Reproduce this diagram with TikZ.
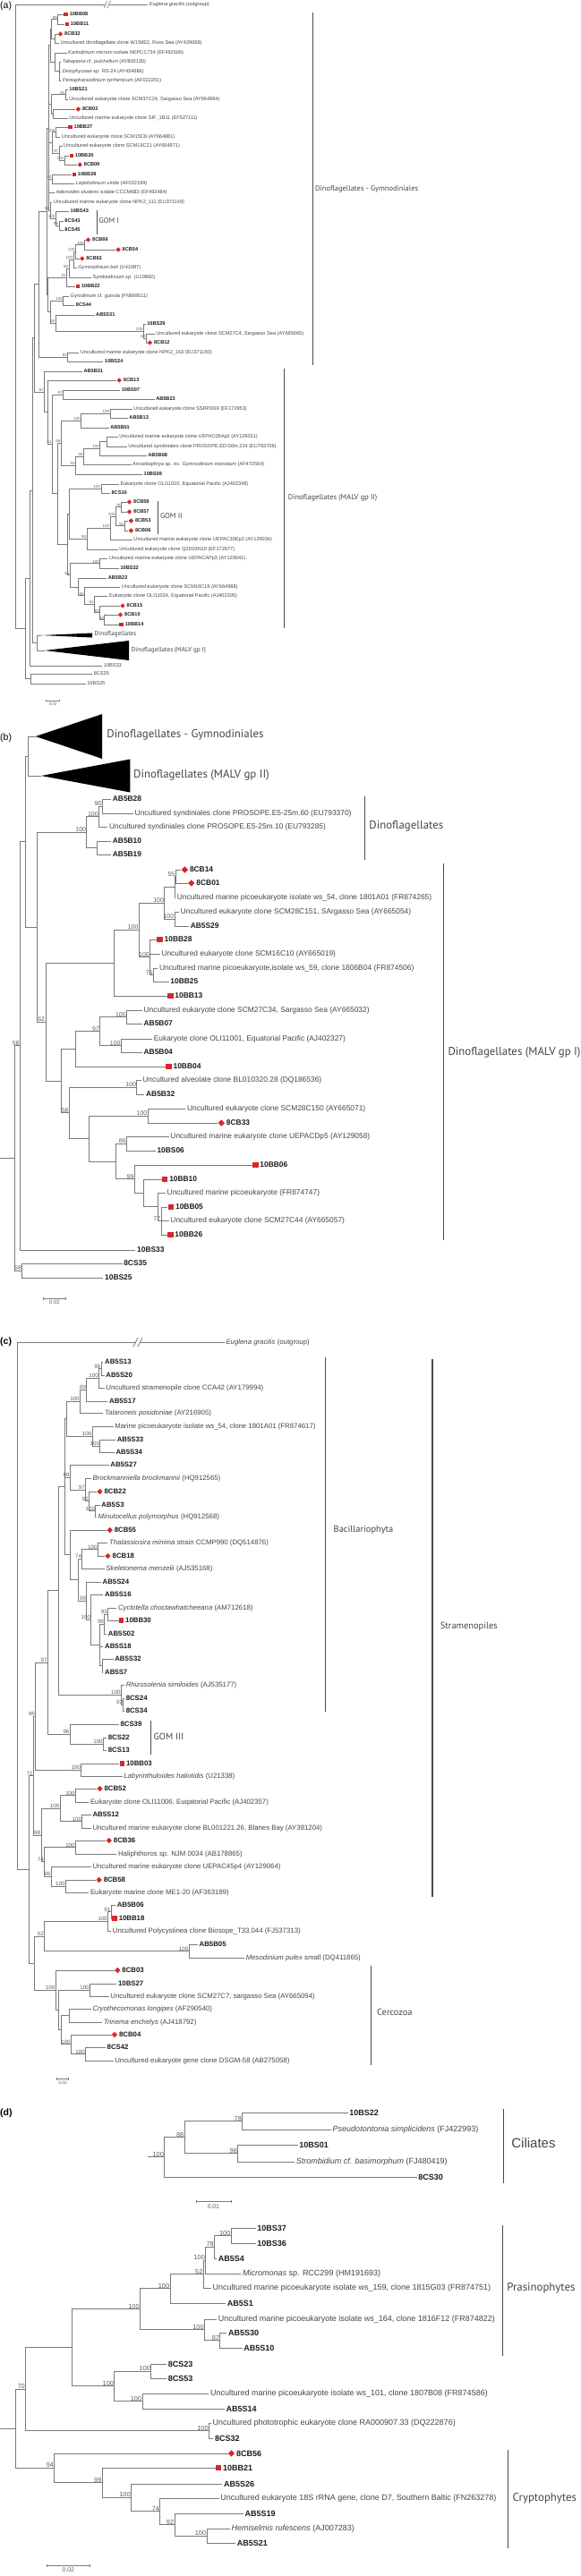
\documentclass[tikz,border=0pt]{standalone}
\usepackage{fontspec}
\setmainfont{Liberation Sans}
\newfontfamily\cladefont{PT Sans}
\usepackage{xcolor}
\definecolor{cLine}{HTML}{7A7A7A}
\definecolor{cText}{HTML}{454545}
\definecolor{cBold}{HTML}{1C1C1C}
\definecolor{cBoot}{HTML}{5E5E5E}
\definecolor{cBar}{HTML}{4A4A4A}
\definecolor{cRed}{HTML}{D9262C}
\usepackage{tikz}
\usetikzlibrary{shapes.geometric,arrows.meta}
\tikzset{
  branch/.style={draw=cLine,line width=0.8pt},
  leaf/.style={anchor=west,inner xsep=1.5pt,inner ysep=0.3pt,text=cText},
  lf/.style={leaf,font=\fontsize{8.4}{9}\selectfont},
  bs/.style={anchor=south east,inner xsep=0.6pt,inner ysep=0.2pt,text=cBoot,
    font=\fontsize{7}{8}\selectfont},
  msq/.style={anchor=west,fill=cRed,inner sep=0pt,minimum size=6.5pt},
  mdm/.style={diamond,anchor=west,fill=cRed,inner sep=0pt,minimum size=7.5pt},
  cladebar/.style={draw=cBar,line width=1.2pt},
  clade/.style={anchor=west,inner sep=0pt,text=cText,
    font=\cladefont\fontsize{12.8}{14}\selectfont},
  wedge/.style={fill=black},
  panel/.style={anchor=west,inner sep=0pt,font=\fontsize{10.5}{12}\selectfont},
  sbar/.style={draw=cLine,line width=0.6pt,{Bar[width=3pt]}-{Bar[width=3pt]}},
  sbl/.style={anchor=north,inner sep=0.4pt,text=cBoot,font=\fontsize{6}{7}\selectfont},
}
\newcommand{\cln}[1]{\textbf{\color{cBold}#1}}
\newcommand{\lv}[4]{\node[lf] (#1) at (#2,#3) {#4};}
\newcommand{\lvsq}[4]{\node[msq] (#1) at (#2,#3) {};
  \node[lf] (#1t) at (#1.east) {\cln{#4}};}
\newcommand{\lvdm}[4]{\node[mdm] (#1) at (#2,#3) {};
  \node[lf] (#1t) at (#1.east) {\cln{#4}};}
\newcommand{\boot}[2]{\node[bs] (#1b) at (#1) {#2};}

\begin{document}
\begin{tikzpicture}[x=1.2417pt,y=-1pt]
\useasboundingbox (0,0) rectangle (522.67,2879);

% ---------------- (a) ----------------
\begin{scope}[lf/.append style={font=\fontsize{5.6}{6}\selectfont},
  bs/.append style={font=\fontsize{4.5}{5}\selectfont},
  branch/.append style={line width=0.6pt},
  msq/.append style={minimum size=4.5pt},
  mdm/.append style={minimum size=5.5pt},
  cladebar/.append style={line width=0.8pt},
  clade/.append style={font=\cladefont\fontsize{8.4}{10}\selectfont},
  sbl/.append style={font=\fontsize{4.3}{5}\selectfont}]
  \node[panel] (pa) at (0,7) {(a)};
  \lv{aout}{133}{5}{\textit{Euglena gracilis} (outgroup)}
  \lvsq{a1}{57.3}{16}{10BB08}
  \lvsq{a2}{58.3}{27}{10BB11}
  \lvdm{a3}{52}{38}{8CB32}
  \lv{a4}{53}{48}{Uncultured dinoflagellate clone W159E2, Ross Sea (AY429068)}
  \lv{a5}{60}{59}{\textit{Karlodinium micrum} isolate NEPCC734 (EF492506)}
  \lv{a6}{55}{69}{\textit{Takayama} cf. \textit{pulchellum} (AY800130)}
  \lv{a7}{55}{80}{\textit{Dinophyceae} sp. RS-24 (AY434686)}
  \lv{a8}{55}{90}{\textit{Pentapharsodinium tyrrhenicum} (AF022201)}
  \lv{a9}{61}{100}{\cln{10BS21}}
  \lv{a10}{61}{111}{Uncultured eukaryote clone SCM37C24, Sargasso Sea (AY664894)}
  \lvdm{a11}{68}{122}{8CB02}
  \lv{a12}{61}{132}{Uncultured marine eukaryote clone SIF\_1B11 (EF527111)}
  \lvsq{a13}{61.3}{142}{10BB27}
  \lv{a14}{54}{153}{Uncultured eukaryote clone SCM15C8 (AY664881)}
  \lv{a15}{56}{163}{Uncultured eukaryote clone SCM19C21 (AY664971)}
  \lvsq{a16}{62.3}{174}{10BB20}
  \lvdm{a17}{69.5}{184}{8CB09}
  \lvsq{a18}{64.7}{195}{10BB29}
  \lv{a19}{67}{205}{\textit{Lepidodinium viride} (AF022199)}
  \lv{a20}{49}{215}{\textit{Adenoides eludens} isolate CCCM683 (EF492484)}
  \lv{a21}{47}{226}{Uncultured marine eukaryote clone NPK2\_111 (EU371149)}
  \lv{a22}{62}{236}{\cln{10BS43}}
  \lv{a23}{57}{247}{\cln{8CS43}}
  \lv{a24}{57}{257}{\cln{8CS45}}
  \lvdm{a25}{77}{268}{8CB66}
  \lvdm{a26}{104}{279}{8CB54}
  \lvdm{a27}{71.5}{289}{8CB63}
  \lv{a28}{69}{299}{\textit{Gymnodinium beii} (U41087)}
  \lv{a29}{82}{310}{Symbiodinium sp. (U10892)}
  \lvsq{a30}{68}{320}{10BB22}
  \lv{a31}{62}{331}{Gyrodinium cf. gutrula (FN669511)}
  \lv{a32}{67}{341}{\cln{8CS44}}
  \lv{a33}{85}{352}{\cln{AB5S31}}
  \lv{a34}{131}{362}{\cln{10BS29}}
  \lv{a35}{139}{373}{Uncultured eukaryote clone SCM27C4, Sargasso Sea (AY665065)}
  \lvdm{a36}{132.5}{383}{8CB12}
  \lv{a37}{71}{394}{Uncultured marine eukaryote clone NPK2\_163 (EU371150)}
  \lv{a38}{93}{404}{\cln{10BS24}}
  \lv{a39}{74}{415}{\cln{AB5B31}}
  \lvdm{a40}{105}{425}{8CB13}
  \lv{a41}{108}{436}{\cln{10BS07}}
  \lv{a42}{139}{446}{\cln{AB5B23}}
  \lv{a43}{119}{457}{Uncultured eukaryote clone SSRPD69 (EF172953)}
  \lv{a44}{115}{467}{\cln{AB5B13}}
  \lv{a45}{98}{478}{\cln{AB5B01}}
  \lv{a46}{106}{488}{Uncultured marine eukaryote clone UEPAC05Ap2 (AY129031)}
  \lv{a47}{114}{499}{Uncultured syndiniales clone PROSOPE.ED-50m.224 (EU793706)}
  \lv{a48}{132}{509}{\cln{AB5B08}}
  \lv{a49}{118}{519}{\textit{Amoebophrya} sp. ex. \textit{Gymnodinium instriatum} (AF472554)}
  \lv{a50}{128}{530}{\cln{10BS08}}
  \lv{a51}{107}{541}{Eukaryote clone OLI11010, Equatorial Pacific (AJ402348)}
  \lv{a52}{99}{551}{\cln{8CS10}}
  \lvdm{a53}{114}{561}{8CB59}
  \lvdm{a54}{114}{572}{8CB57}
  \lvdm{a55}{115.5}{582}{8CB53}
  \lvdm{a56}{115.5}{593}{8CB06}
  \lv{a57}{119}{603}{Uncultured marine eukaryote clone UEPAC30Ep2 (AY129034)}
  \lv{a58}{106}{614}{Uncultured eukaryote clone Q2D03N10 (EF172977)}
  \lv{a59}{97}{624}{Uncultured marine eukaryote clone UEPACAPp3 (AY129041)}
  \lv{a60}{107}{635}{\cln{10BS32}}
  \lv{a61}{96}{646}{\cln{AB5B22}}
  \lv{a62}{108}{656}{Uncultured eukaryote clone SCM16C19 (AY664988)}
  \lv{a63}{97}{666}{Eukaryote clone OLI11024, Equatorial Pacific (AJ402305)}
  \lvdm{a64}{108}{677}{8CB15}
  \lvdm{a65}{106}{687}{8CB10}
  \lvsq{a66}{107.3}{698}{10BB14}
  \lv{a67}{92}{744}{10BS33}
  \lv{a68}{83}{753}{8CS35}
  \lv{a69}{77}{764}{10BS25}
  % inner nodes
  \coordinate (an1) at (52,21.5);   \coordinate (an2) at (49,43);
  \coordinate (an3) at (53,79.5);   \coordinate (an4) at (49,69.2);
  \coordinate (an5) at (59,105.5);  \coordinate (an6) at (48,127);
  \coordinate (an7) at (50,147.5);  \coordinate (an8) at (58,179);
  \coordinate (an9) at (53,171);    \coordinate (an10) at (47,200);
  \coordinate (an11) at (53,252);   \coordinate (an12) at (50,244);
  \coordinate (an13) at (45,235);   \coordinate (an14) at (76,273.5);
  \coordinate (an15) at (68,281.2); \coordinate (an16) at (66,290.1);
  \coordinate (an17) at (62,300);   \coordinate (an18) at (60,310);
  \coordinate (an19) at (57,336);   \coordinate (an20) at (131.5,378);
  \coordinate (an21) at (129,370);  \coordinate (an22) at (50,361);
  \coordinate (an23) at (61,399);   \coordinate (an24) at (46,32.2);
  \coordinate (an25) at (45,50.7);  \coordinate (an26) at (46,116.2);
  \coordinate (an27) at (47,159.2); \coordinate (an28) at (44,142.9);
  \coordinate (an29) at (45,348.5); \coordinate (an30) at (43,329.2);
  \coordinate (an31) at (42,236);   \coordinate (an32) at (35,317.5);
  \coordinate (an33) at (99,462);   \coordinate (an34) at (73,470);
  \coordinate (an35) at (96,493.5); \coordinate (an36) at (90,501.2);
  \coordinate (an37) at (75,510.1); \coordinate (an38) at (68,520);
  \coordinate (an39) at (57,441);   \coordinate (an40) at (91,546);
  \coordinate (an41) at (109,566.5);\coordinate (an42) at (112,587.5);
  \coordinate (an43) at (104,577);  \coordinate (an44) at (99,590);
  \coordinate (an45) at (78,602);   \coordinate (an46) at (62,574);
  \coordinate (an47) at (90,629.5); \coordinate (an48) at (94,692.5);
  \coordinate (an49) at (90,684.7); \coordinate (an50) at (85,675.4);
  \coordinate (an51) at (76,665.7); \coordinate (an52) at (70,655.9);
  \coordinate (an53) at (63,642.7); \coordinate (an54) at (61,608.4);
  \coordinate (an55) at (55,495);   \coordinate (an56) at (52,551.7);
  \coordinate (an57) at (47,496.4); \coordinate (an58) at (43,460.7);
  \coordinate (an59) at (40,437.9); \coordinate (an60) at (31,377.7);
  \coordinate (aw1) at (37,710);    \coordinate (aw2) at (40,727);
  \coordinate (an61) at (33,718.5); \coordinate (an62) at (29,548);
  \coordinate (an63) at (27,646);   \coordinate (an64) at (28,758.5);
  \coordinate (an65) at (23,702.2); \coordinate (aroot) at (14,353.6);
  % collapsed clades
  \fill[wedge] (aw1) -- ++(46,-2.5) -- ++(0,5) -- cycle;
  \fill[wedge] (aw2) -- ++(76,-11) -- ++(0,22) -- cycle;
  \node[clade,font=\cladefont\fontsize{7.2}{8}\selectfont] (awl1) at (85,709) {Dinoflagellates};
  \node[clade,font=\cladefont\fontsize{7.2}{8}\selectfont] (awl2) at (118,727) {Dinoflagellates (MALV gp I)};
  \foreach \p/\c in {an1/a1,an1/a2,an2/a3,an2/a4,an3/a6,an3/a7,an3/a8,an4/a5,an4/an3,
      an5/a9,an5/a10,an6/a11,an6/a12,an7/a13,an7/a14,an8/a16,an8/a17,an9/a15,an9/an8,
      an10/a18,an10/a19,an11/a23,an11/a24,an12/a22,an12/an11,an13/a21,an13/an12,
      an14/a25,an14/a26,an15/an14,an15/a27,an16/an15,an16/a28,an17/an16,an17/a29,
      an18/an17,an18/a30,an19/a31,an19/a32,an20/a35,an20/a36,an21/a34,an21/an20,
      an22/a33,an22/an21,an23/a37,an23/a38,an24/an1,an24/an2,an25/an24,an25/an4,
      an26/an5,an26/an6,an27/an7,an27/an9,an28/an25,an28/an26,an28/an27,an28/an10,
      an28/a20,an28/an13,an29/an19,an29/an22,an30/an18,an30/an29,an31/an28,an31/an30,
      an32/an31,an32/an23,an33/a43,an33/a44,an34/an33,an34/a45,an35/a46,an35/a47,
      an36/an35,an36/a48,an37/an36,an37/a49,an38/an37,an38/a50,an39/a41,an39/a42,
      an40/a51,an40/a52,an41/a53,an41/a54,an42/a55,an42/a56,an43/an41,an43/an42,
      an44/an43,an44/a57,an45/an44,an45/a58,an46/an40,an46/an45,an47/a59,an47/a60,
      an48/a65,an48/a66,an49/a64,an49/an48,an50/a63,an50/an49,an51/a62,an51/an50,
      an52/a61,an52/an51,an53/an47,an53/an52,an54/an46,an54/an53,an55/an34,an55/an38,
      an56/an55,an56/an54,an57/an39,an57/an56,an58/a40,an58/an57,an59/a39,an59/an58,
      an60/an32,an60/an59,an61/aw1,an61/aw2,an62/an60,an62/an61,an63/an62,an63/a67,
      an64/a68,an64/a69,an65/an63,an65/an64,aroot/aout,aroot/an65}
    \draw[branch] (\p) |- (\c);
  % break on the outgroup branch
  \fill[white] (93.5,9) -- (96.5,1) -- (99.5,1) -- (96.5,9) -- cycle;
  \draw[branch] (93.5,9) -- (96.5,1) (96.5,9) -- (99.5,1);
  % support values
  \boot{an1}{99} \boot{an5}{91} \boot{an7}{100} \boot{an8}{100} \boot{an9}{97}
  \boot{an10}{74} \boot{an11}{96} \boot{an12}{100} \boot{an13}{62} \boot{an14}{100}
  \boot{an15}{100} \boot{an16}{100} \boot{an17}{60} \boot{an18}{51} \boot{an19}{100}
  \boot{an20}{60} \boot{an21}{100} \boot{an22}{50} \boot{an23}{84} \boot{an33}{100}
  \boot{an34}{100} \boot{an36}{100} \boot{an37}{55} \boot{an38}{53} \boot{an39}{97}
  \boot{an40}{100} \boot{an41}{79} \boot{an42}{61} \boot{an43}{100} \boot{an44}{100}
  \boot{an45}{99} \boot{an47}{100} \boot{an48}{68} \boot{an49}{83} \boot{an50}{61}
  \boot{an51}{60} \boot{an53}{61} \boot{an55}{55} \boot{an57}{51} \boot{an59}{67}
  % clade bars
  \draw[cladebar] (281,14) -- (281,408);
  \node[clade] (ga) at (283.5,211) {Dinoflagellates - Gymnodiniales};
  \draw[cladebar] (256,412) -- (256,702);
  \node[clade] (ma) at (259,556) {Dinoflagellates (MALV gp II)};
  \draw[cladebar] (87,235) -- (87,262);
  \node[clade] (g1) at (89,247) {GOM I};
  \draw[cladebar] (142,560) -- (142,597);
  \node[clade] (g2) at (144,577) {GOM II};
  \draw[sbar,{Bar[width=2.5pt]}-{Bar[width=2.5pt]}] (41,783) -- (54,783);
  \node[sbl] (sca) at (47.5,785) {0.02};
\end{scope}

% ---------------- (b) ----------------
\begin{scope}
  \node[panel] (pb) at (0,825) {(b)};
  \lv{b1}{100}{893}{\cln{AB5B28}}
  \lv{b2}{120}{909}{Uncultured syndiniales clone PROSOPE.E5-25m.60 (EU793370)}
  \lv{b3}{97}{924}{Uncultured syndiniales clone PROSOPE.E5-25m.10 (EU793285)}
  \lv{b4}{100}{940}{\cln{AB5B10}}
  \lv{b5}{100}{955}{\cln{AB5B19}}
  \lvdm{b6}{163}{972}{8CB14}
  \lvdm{b7}{169}{987}{8CB01}
  \lv{b8}{158}{1003}{Uncultured marine picoeukaryote isolate ws\_54, clone 1801A01 (FR874265)}
  \lv{b9}{161}{1019}{Uncultured eukaryote clone SCM28C151, SArgasso Sea (AY665054)}
  \lv{b10}{170}{1035}{\cln{AB5S29}}
  \lvsq{b11}{141}{1050}{10BB28}
  \lv{b12}{144}{1066}{Uncultured eukaryote clone SCM16C10 (AY665019)}
  \lv{b13}{142}{1082}{Uncultured marine picoeukaryote,isolate ws\_59, clone 1806B04 (FR874506)}
  \lv{b14}{152}{1097}{\cln{10BB25}}
  \lvsq{b15}{150.5}{1113}{10BB13}
  \lv{b16}{128}{1129}{Uncultured eukaryote clone SCM27C34, Sargasso Sea (AY665032)}
  \lv{b17}{128}{1144}{\cln{AB5B07}}
  \lv{b18}{137}{1161}{Eukaryote clone OLI11001, Equatorial Pacific (AJ402327)}
  \lv{b19}{128}{1176}{\cln{AB5B04}}
  \lvsq{b20}{149}{1192}{10BB04}
  \lv{b21}{127}{1207}{Uncultured alveolate clone BL010320.28 (DQ186536)}
  \lv{b22}{130}{1223}{\cln{AB5B32}}
  \lv{b23}{167}{1239}{Uncultured eukaryote clone SCM28C150 (AY665071)}
  \lvdm{b24}{196}{1255}{8CB33}
  \lv{b25}{152}{1270}{Uncultured marine eukaryote clone UEPACDp5 (AY129058)}
  \lv{b26}{140}{1286}{\cln{10BS06}}
  \lvsq{b27}{227}{1302}{10BB06}
  \lvsq{b28}{145.5}{1318}{10BB10}
  \lv{b29}{149}{1333}{Uncultured marine picoeukaryote (FR874747)}
  \lvsq{b30}{151}{1349}{10BB05}
  \lv{b31}{152}{1364}{Uncultured eukaryote clone SCM27C44 (AY665057)}
  \lvsq{b32}{150.5}{1380}{10BB26}
  \lv{b33}{122}{1397}{\cln{10BS33}}
  \lv{b34}{110}{1412}{\cln{8CS35}}
  \lv{b35}{93}{1428}{\cln{10BS25}}
  \coordinate (bw1) at (32,823);      \coordinate (bw2) at (37,867);
  \coordinate (bn1) at (92,901);      \coordinate (bn2) at (89,912.5);
  \coordinate (bn3) at (87,947.5);    \coordinate (bn4) at (78,930);
  \coordinate (bn5) at (158,979.5);   \coordinate (bn6) at (157,991.2);
  \coordinate (bn7) at (157,1027);    \coordinate (bn8) at (148,1009.1);
  \coordinate (bn9) at (138,1089.5);  \coordinate (bn10) at (135,1069.7);
  \coordinate (bn11) at (125,1039.4); \coordinate (bn12) at (103,1076.2);
  \coordinate (bn13) at (114,1136.5); \coordinate (bn14) at (109,1168.5);
  \coordinate (bn15) at (90,1152.5);  \coordinate (bn16) at (68,1172.2);
  \coordinate (bn17) at (123,1215);   \coordinate (bn18) at (133,1247);
  \coordinate (bn19) at (114,1278);   \coordinate (bn20) at (145,1364.5);
  \coordinate (bn21) at (142,1348.7); \coordinate (bn22) at (129,1333.4);
  \coordinate (bn23) at (121,1317.7); \coordinate (bn24) at (104,1297.9);
  \coordinate (bn25) at (80,1272.4);  \coordinate (bn26) at (62,1243.7);
  \coordinate (bn27) at (55,1208);    \coordinate (bn28) at (41,1142.1);
  \coordinate (bn29) at (33,1036);    \coordinate (bn30) at (25,845);
  \coordinate (bn31) at (23,940.5);   \coordinate (bn32) at (18,1168.7);
  \coordinate (bn33) at (20,1420);    \coordinate (broot) at (13,1294.4);
  \coordinate (bst) at (0,1294.4);
  \fill[wedge] (bw1) -- ++(60,-25) -- ++(0,50) -- cycle;
  \fill[wedge] (bw2) -- ++(80,-18.5) -- ++(0,37) -- cycle;
  \node[clade] (wb1) at (96,821) {Dinoflagellates - Gymnodiniales};
  \node[clade] (wb2) at (120,866) {Dinoflagellates (MALV gp II)};
  \foreach \p/\c in {bn1/b1,bn1/b2,bn2/bn1,bn2/b3,bn3/b4,bn3/b5,bn4/bn2,bn4/bn3,
      bn5/b6,bn5/b7,bn6/bn5,bn6/b8,bn7/b9,bn7/b10,bn8/bn6,bn8/bn7,bn9/b13,bn9/b14,
      bn10/b11,bn10/b12,bn10/bn9,bn11/bn8,bn11/bn10,bn12/bn11,bn12/b15,
      bn13/b16,bn13/b17,bn14/b18,bn14/b19,bn15/bn13,bn15/bn14,bn16/bn15,bn16/b20,
      bn17/b21,bn17/b22,bn18/b23,bn18/b24,bn19/b25,bn19/b26,
      bn20/b30,bn20/b31,bn20/b32,bn21/b29,bn21/bn20,bn22/b28,bn22/bn21,
      bn23/b27,bn23/bn22,bn24/bn19,bn24/bn23,bn25/bn18,bn25/bn24,bn26/bn17,bn26/bn25,
      bn27/bn16,bn27/bn26,bn28/bn12,bn28/bn27,bn29/bn4,bn29/bn28,bn30/bw1,bn30/bw2,
      bn31/bn30,bn31/bn29,bn32/bn31,bn32/b33,bn33/b34,bn33/b35,broot/bn32,broot/bn33}
    \draw[branch] (\p) |- (\c);
  \draw[branch] (bst) -- (broot);
  \boot{bn1}{90} \boot{bn2}{100} \boot{bn4}{100} \boot{bn5}{55} \boot{bn7}{100}
  \boot{bn8}{100} \boot{bn9}{75} \boot{bn10}{100} \boot{bn11}{100} \boot{bn13}{100}
  \boot{bn14}{100} \boot{bn15}{97} \boot{bn17}{100} \boot{bn18}{100} \boot{bn19}{86}
  \boot{bn20}{77} \boot{bn23}{99} \boot{bn26}{58} \boot{bn28}{62} \boot{bn32}{58}
  \boot{bn33}{58}
  \draw[cladebar] (328,890) -- (328,961);
  \node[clade] (db) at (332,923) {Dinoflagellates};
  \draw[cladebar] (399,965) -- (399,1386);
  \node[clade] (mb) at (403,1176) {Dinoflagellates (MALV gp I)};
  \draw[sbar] (39,1451) -- (59,1451);
  \node[sbl] (scb) at (49,1453) {0.02};
\end{scope}

% ---------------- (c) ----------------
\begin{scope}[lf/.append style={font=\fontsize{7.8}{9}\selectfont},
  bs/.append style={font=\fontsize{6.2}{7}\selectfont},
  msq/.append style={minimum size=5.5pt},
  mdm/.append style={minimum size=6.5pt},
  clade/.append style={font=\cladefont\fontsize{10.4}{12}\selectfont},
  sbl/.append style={font=\fontsize{5}{6}\selectfont}]
  \node[panel,font=\fontsize{10.5}{12}\selectfont\bfseries] (pc) at (0,1500) {(c)};
  \lv{cout}{202}{1500}{\textit{Euglena gracilis} (outgroup)}
  \lv{c1}{93}{1522}{\cln{AB5S13}}
  \lv{c2}{94}{1537}{\cln{AB5S20}}
  \lv{c3}{94}{1551}{Uncultured stramenopile clone CCA42 (AY179994)}
  \lv{c4}{97}{1566}{\cln{AB5S17}}
  \lv{c5}{93}{1579}{\textit{Talaroneis posidoniae} (AY216905)}
  \lv{c6}{102}{1594}{Marine picoeukaryote isolate ws\_54, clone 1801A01 (FR874617)}
  \lv{c7}{104}{1609}{\cln{AB5S33}}
  \lv{c8}{103}{1623}{\cln{AB5S34}}
  \lv{c9}{98}{1637}{\cln{AB5S27}}
  \lv{c10}{82}{1652}{\textit{Brockmanniella brockmannii} (HQ912565)}
  \lvdm{c11}{87}{1667}{8CB22}
  \lv{c12}{90}{1682}{\cln{AB5S3}}
  \lv{c13}{87}{1695}{\textit{Minutocellus polymorphus} (HQ912568)}
  \lvdm{c14}{96}{1710}{8CB55}
  \lv{c15}{97}{1724}{\textit{Thalassiosira minima} strain CCMP990 (DQ514876)}
  \lvdm{c16}{94.3}{1739}{8CB18}
  \lv{c17}{94}{1753}{\textit{Skeletonema menzelii} (AJ535168)}
  \lv{c18}{91}{1768}{\cln{AB5S24}}
  \lv{c19}{93}{1782}{\cln{AB5S16}}
  \lv{c20}{105}{1797}{\textit{Cyclotella choctawhatcheeana} (AM712618)}
  \lvsq{c21}{106.8}{1811}{10BB30}
  \lv{c22}{96}{1826}{\cln{AB5S02}}
  \lv{c23}{93}{1840}{\cln{AB5S18}}
  \lv{c24}{102}{1854}{\cln{AB5S32}}
  \lv{c25}{93}{1869}{\cln{AB5S7}}
  \lv{c26}{112}{1883}{\textit{Rhizosolenia similoides} (AJ535177)}
  \lv{c27}{112}{1898}{\cln{8CS24}}
  \lv{c28}{112}{1912}{\cln{8CS34}}
  \lv{c29}{107}{1927}{\cln{8CS39}}
  \lv{c30}{96}{1942}{\cln{8CS22}}
  \lv{c31}{96}{1956}{\cln{8CS13}}
  \lvsq{c32}{107.5}{1971}{10BB03}
  \lv{c33}{110}{1985}{\textit{Labyrinthuloides haliotidis} (U21338)}
  \lvdm{c34}{87}{1999}{8CB52}
  \lv{c35}{80}{2014}{Eukaryote clone OLI11006, Euqatorial Pacific (AJ402357)}
  \lv{c36}{82}{2028}{\cln{AB5S12}}
  \lv{c37}{82}{2043}{Uncultured marine eukaryote clone BL001221.26, Blanes Bay (AY381204)}
  \lvdm{c38}{95.3}{2057}{8CB36}
  \lv{c39}{105}{2072}{Haliphthoros sp. NJM 0034 (AB178865)}
  \lv{c40}{82}{2086}{Uncultured marine eukaryote clone UEPAC45p4 (AY129064)}
  \lvdm{c41}{86.3}{2101}{8CB58}
  \lv{c42}{80}{2115}{Eukaryote marine clone ME1-20 (AF363189)}
  \lv{c43}{104}{2129}{\cln{AB5B06}}
  \lvsq{c44}{100.8}{2144}{10BB18}
  \lv{c45}{100}{2158}{Uncultured Polycystinea clone Biosope\_T33.044 (FJ537313)}
  \lv{c46}{178}{2173}{\cln{AB5B05}}
  \lv{c47}{220}{2188}{\textit{Mesodinium pulex} small (DQ411865)}
  \lvdm{c48}{103}{2202}{8CB03}
  \lv{c49}{105}{2217}{\cln{10BS27}}
  \lv{c50}{98}{2231}{Uncultured eukaryote clone SCM27C7, sargasso Sea (AY665094)}
  \lv{c51}{82}{2245}{\textit{Cryothecomonas longipes} (AF290540)}
  \lv{c52}{92}{2260}{\textit{Trinema enchelys} (AJ418792)}
  \lvdm{c53}{100.3}{2274}{8CB04}
  \lv{c54}{95}{2288}{\cln{8CS42}}
  \lv{c55}{102}{2303}{Uncultured eukaryote gene clone DSGM-58 (AB275058)}
  \coordinate (cn1) at (91,1529.5);   \coordinate (cn2) at (89,1540.2);
  \coordinate (cn3) at (78,1553.1);   \coordinate (cn4) at (72,1566);
  \coordinate (cn5) at (90,1616);     \coordinate (cn6) at (83,1605);
  \coordinate (cn7) at (60,1585.5);   \coordinate (cn8) at (86,1688.5);
  \coordinate (cn9) at (80,1677.7);   \coordinate (cn10) at (77,1664.9);
  \coordinate (cn11) at (63,1651);    \coordinate (cn12) at (88,1731.5);
  \coordinate (cn13) at (74,1742.2);  \coordinate (cn14) at (97,1804);
  \coordinate (cn15) at (94,1815);    \coordinate (cn16) at (92,1861.5);
  \coordinate (cn17) at (90,1838.2);  \coordinate (cn18) at (82,1810.1);
  \coordinate (cn19) at (78,1789);    \coordinate (cn20) at (70,1765.6);
  \coordinate (cn21) at (63,1737.8);  \coordinate (cn22) at (58,1661.7);
  \coordinate (cn23) at (111,1905);   \coordinate (cn24) at (109,1894);
  \coordinate (cn25) at (53,1777.8);  \coordinate (cn26) at (93,1949);
  \coordinate (cn27) at (63,1938);    \coordinate (cn28) at (43,1857.9);
  \coordinate (cn29) at (73,1978);    \coordinate (cn30) at (32,1918);
  \coordinate (cn31) at (68,2006.5);  \coordinate (cn32) at (74,2035.5);
  \coordinate (cn33) at (54,2021);    \coordinate (cn34) at (68,2064.5);
  \coordinate (cn35) at (59,2108);    \coordinate (cn36) at (46,2097);
  \coordinate (cn37) at (40,2080.7);  \coordinate (cn38) at (37,2050.9);
  \coordinate (cn39) at (30,1984.4);  \coordinate (cn40) at (100,2136.5);
  \coordinate (cn41) at (97,2147.2);  \coordinate (cn42) at (170,2180.5);
  \coordinate (cn43) at (40,2163.9);  \coordinate (cn44) at (81,2224);
  \coordinate (cn45) at (62,2252.5);  \coordinate (cn46) at (77,2295.5);
  \coordinate (cn47) at (64,2284.7);  \coordinate (cn48) at (55,2268.6);
  \coordinate (cn49) at (53,2246.3);  \coordinate (cn50) at (50,2224.2);
  \coordinate (cn51) at (31,2194.1);  \coordinate (cn52) at (26,2089.3);
  \coordinate (croot) at (16,1794.6);
  \foreach \p/\c in {cn1/c1,cn1/c2,cn2/cn1,cn2/c3,cn3/cn2,cn3/c4,cn4/cn3,cn4/c5,
      cn5/c7,cn5/c8,cn6/c6,cn6/cn5,cn7/cn4,cn7/cn6,cn8/c12,cn8/c13,cn9/c11,cn9/cn8,
      cn10/c10,cn10/cn9,cn11/c9,cn11/cn10,cn12/c15,cn12/c16,cn13/cn12,cn13/c17,
      cn14/c20,cn14/c21,cn15/cn14,cn15/c22,cn16/c24,cn16/c25,cn17/cn15,cn17/c23,
      cn17/cn16,cn18/c19,cn18/cn17,cn19/c18,cn19/cn18,cn20/cn13,cn20/cn19,
      cn21/c14,cn21/cn20,cn22/cn7,cn22/cn11,cn22/cn21,cn23/c27,cn23/c28,
      cn24/c26,cn24/cn23,cn25/cn22,cn25/cn24,cn26/c30,cn26/c31,cn27/c29,cn27/cn26,
      cn28/cn25,cn28/cn27,cn29/c32,cn29/c33,cn30/cn28,cn30/cn29,cn31/c34,cn31/c35,
      cn32/c36,cn32/c37,cn33/cn31,cn33/cn32,cn34/c38,cn34/c39,cn35/c41,cn35/c42,
      cn36/c40,cn36/cn35,cn37/cn34,cn37/cn36,cn38/cn33,cn38/cn37,cn39/cn30,cn39/cn38,
      cn40/c43,cn40/c44,cn41/cn40,cn41/c45,cn42/c46,cn42/c47,cn43/cn41,cn43/cn42,
      cn44/c49,cn44/c50,cn45/c51,cn45/c52,cn46/c54,cn46/c55,cn47/c53,cn47/cn46,
      cn48/cn45,cn48/cn47,cn49/cn44,cn49/cn48,cn50/c48,cn50/cn49,cn51/cn43,cn51/cn50,
      cn52/cn39,cn52/cn51,croot/cout,croot/cn52}
    \draw[branch] (\p) |- (\c);
  \fill[white] (120,1505) -- (124,1495) -- (128,1495) -- (124,1505) -- cycle;
  \draw[branch] (120,1505) -- (124,1495) (124,1505) -- (128,1495);
  \boot{cn1}{99} \boot{cn2}{100} \boot{cn3}{89} \boot{cn4}{100} \boot{cn5}{100}
  \boot{cn6}{100} \boot{cn8}{100} \boot{cn9}{92} \boot{cn10}{97} \boot{cn11}{69}
  \boot{cn12}{100} \boot{cn13}{74} \boot{cn14}{93} \boot{cn15}{99} \boot{cn18}{100}
  \boot{cn19}{99} \boot{cn23}{93} \boot{cn24}{100} \boot{cn26}{100} \boot{cn27}{96}
  \boot{cn28}{97} \boot{cn29}{100} \boot{cn30}{66} \boot{cn31}{100} \boot{cn32}{100}
  \boot{cn33}{100} \boot{cn34}{100} \boot{cn35}{100} \boot{cn36}{96} \boot{cn37}{74}
  \boot{cn38}{98} \boot{cn39}{71} \boot{cn40}{91} \boot{cn41}{100} \boot{cn42}{100}
  \boot{cn43}{52} \boot{cn44}{100} \boot{cn46}{100} \boot{cn47}{100} \boot{cn50}{100}
  \draw[cladebar] (293,1517) -- (293,1913);
  \node[clade] (bac) at (300,1710) {Bacillariophyta};
  \draw[cladebar] (389,1519) -- (389,2120);
  \node[clade] (stra) at (396,1818) {Stramenopiles};
  \draw[cladebar] (136,1923) -- (136,1961);
  \node[clade] (g3) at (138,1941) {GOM III};
  \draw[cladebar] (334,2197) -- (334,2308);
  \node[clade] (cerc) at (339,2249) {Cercozoa};
  \draw[sbar] (51,2323) -- (62,2323);
  \node[sbl] (scc) at (56.5,2325) {0.02};
\end{scope}

% ---------------- (d) ----------------
\begin{scope}[lf/.append style={font=\fontsize{9}{10}\selectfont},
  bs/.append style={font=\fontsize{7.4}{8}\selectfont},
  sbl/.append style={font=\fontsize{6.8}{8}\selectfont}]
  \node[panel,font=\fontsize{10.5}{12}\selectfont\bfseries] (pd) at (0,2362) {(d)};
  \lv{d1}{313}{2361}{\cln{10BS22}}
  \lv{d2}{298}{2380}{\textit{Pseudotontonia simplicidens} (FJ422993)}
  \lv{d3}{268}{2397}{\cln{10BS01}}
  \lv{d4}{265}{2416}{\textit{Strombidium cf. basimorphum} (FJ480419)}
  \lv{d5}{375}{2433}{\cln{8CS30}}
  \lv{d6}{230}{2490}{\cln{10BS37}}
  \lv{d7}{230}{2507}{\cln{10BS36}}
  \lv{d8}{195}{2524}{\cln{AB5S4}}
  \lv{d9}{217}{2541}{\textit{Micromonas} sp. RCC299 (HM191693)}
  \lv{d10}{190}{2557}{Uncultured marine picoeukaryote isolate ws\_159, clone 1815G03 (FR874751)}
  \lv{d11}{203}{2574}{\cln{AB5S1}}
  \lv{d12}{195}{2592}{Uncultured marine picoeukaryote isolate ws\_164, clone 1816F12 (FR874822)}
  \lv{d13}{204}{2607}{\cln{AB5S30}}
  \lv{d14}{218}{2624}{\cln{AB5S10}}
  \lv{d15}{150}{2642}{\cln{8CS23}}
  \lv{d16}{150}{2658}{\cln{8CS53}}
  \lv{d17}{188}{2675}{Uncultured marine picoeukaryote isolate ws\_101, clone 1807B08 (FR874586)}
  \lv{d18}{202}{2692}{\cln{AB5S14}}
  \lv{d19}{190}{2708}{Uncultured phototrophic eukaryote clone RA000907.33 (DQ222876)}
  \lv{d20}{192}{2725}{\cln{8CS32}}
  \lvdm{d21}{205}{2742}{8CB56}
  \lvsq{d22}{193.7}{2758}{10BB21}
  \lv{d23}{200}{2776}{\cln{AB5S26}}
  \lv{d24}{197}{2792}{Uncultured eukaryote 18S rRNA gene, clone D7, Southern Baltic (FN263278)}
  \lv{d25}{219}{2809}{\cln{AB5S19}}
  \lv{d26}{207}{2826}{\textit{Hemiselmis rufescens} (AJ007283)}
  \lv{d27}{212}{2842}{\cln{AB5S21}}
  \coordinate (dci) at (133,2410.7);  \coordinate (dn1) at (218,2370.5);
  \coordinate (dn2) at (214,2406.5);  \coordinate (dn3) at (166,2388.5);
  \coordinate (dn4) at (148,2410.7);  \coordinate (dn5) at (208,2498.5);
  \coordinate (dn6) at (193,2511.2);  \coordinate (dn7) at (185,2526.1);
  \coordinate (dn8) at (183,2541.6);  \coordinate (dn9) at (153,2557.8);
  \coordinate (dn10) at (198,2615.5); \coordinate (dn11) at (184,2603.7);
  \coordinate (dn12) at (126,2580.8); \coordinate (dn13) at (136,2650);
  \coordinate (dn14) at (128,2683.5); \coordinate (dn15) at (103,2666.7);
  \coordinate (dn16) at (65,2623.8);  \coordinate (dn17) at (188,2716.5);
  \coordinate (dn18) at (23,2670.1);  \coordinate (dn19) at (186,2834);
  \coordinate (dn20) at (157,2821.5); \coordinate (dn21) at (144,2806.7);
  \coordinate (dn22) at (118,2791.4); \coordinate (dn23) at (92,2774.7);
  \coordinate (dn24) at (49,2758.4);  \coordinate (droot) at (14,2714.2);
  \coordinate (dst) at (0,2714.2);
  \foreach \p/\c in {dn1/d1,dn1/d2,dn2/d3,dn2/d4,dn3/dn1,dn3/dn2,dn4/dn3,dn4/d5,
      dn5/d6,dn5/d7,dn6/dn5,dn6/d8,dn7/dn6,dn7/d9,dn8/dn7,dn8/d10,dn9/dn8,dn9/d11,
      dn10/d13,dn10/d14,dn11/d12,dn11/dn10,dn12/dn9,dn12/dn11,dn13/d15,dn13/d16,
      dn14/d17,dn14/d18,dn15/dn13,dn15/dn14,dn16/dn12,dn16/dn15,dn17/d19,dn17/d20,
      dn18/dn16,dn18/dn17,dn19/d26,dn19/d27,dn20/d25,dn20/dn19,dn21/d24,dn21/dn20,
      dn22/d23,dn22/dn21,dn23/d22,dn23/dn22,dn24/d21,dn24/dn23,droot/dn18,droot/dn24}
    \draw[branch] (\p) |- (\c);
  \draw[branch] (dci) -- (dn4);
  \draw[branch] (dst) -- (droot);
  \boot{dn1}{78} \boot{dn2}{98} \boot{dn3}{88} \boot{dn4}{100} \boot{dn5}{100}
  \boot{dn6}{78} \boot{dn7}{100} \boot{dn8}{52} \boot{dn9}{100} \boot{dn10}{87}
  \boot{dn11}{100} \boot{dn12}{100} \boot{dn13}{100} \boot{dn14}{100} \boot{dn15}{100}
  \boot{dn17}{100} \boot{dn18}{70} \boot{dn19}{100} \boot{dn20}{92} \boot{dn21}{74}
  \boot{dn22}{100} \boot{dn23}{99} \boot{dn24}{94}
  \draw[cladebar] (453,2357) -- (453,2440);
  \node[clade,font=\fontsize{15}{17}\selectfont] (cil) at (460,2395) {Ciliates};
  \draw[cladebar] (452,2487) -- (452,2633);
  \node[clade] (pras) at (456,2557) {Prasinophytes};
  \draw[cladebar] (457,2738) -- (457,2848);
  \node[clade] (cryp) at (461,2792) {Cryptophytes};
  \draw[sbar] (176,2460) -- (208,2460);
  \node[sbl] (scd1) at (192,2463) {0.01};
  \draw[sbar] (42,2867) -- (81,2867);
  \node[sbl] (scd2) at (61.5,2869) {0.02};
\end{scope}
\end{tikzpicture}
\end{document}
